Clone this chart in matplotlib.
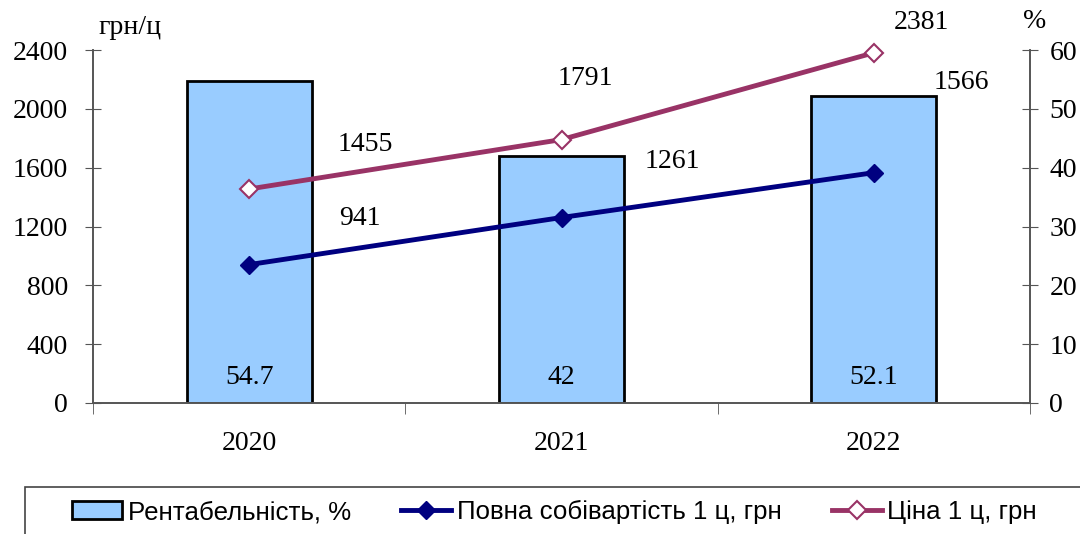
import matplotlib.pyplot as plt
from matplotlib.patches import Rectangle

years = ['2020', '2021', '2022']
profit = [54.7, 42, 52.1]           # Рентабельність, %
cost = [941, 1261, 1566]            # Повна собівартість 1 ц, грн
price = [1455, 1791, 2381]          # Ціна 1 ц, грн

serif = ['Liberation Serif', 'DejaVu Serif']
sans = ['Liberation Sans', 'DejaVu Sans']
fs = 20

fig = plt.figure(figsize=(10.8, 5.34), dpi=100)
ax = fig.add_axes([93/1080, 1-403/534, (1030-93)/1080, 353/534])
ax2 = ax.twinx()

x = range(len(years))

# стовпці на правій осі (%)
ax2.bar(x, profit, width=0.4, color='#99CCFF', edgecolor='black', linewidth=2, zorder=2)
ax2.set_ylim(0, 60)
ax2.set_yticks(range(0, 61, 10))

# лінії на лівій осі (грн)
ax.set_zorder(ax2.get_zorder() + 1)
ax.patch.set_visible(False)
l1, = ax.plot(x, cost, color='#000080', lw=3.5, marker='D', ms=9, zorder=3, clip_on=False)
l2, = ax.plot(x, price, color='#993366', lw=3.5, marker='D', ms=9,
              mfc='white', mec='#993366', mew=1.5, zorder=3, clip_on=False)
ax.set_ylim(0, 2400)
ax.set_yticks(range(0, 2401, 400))
ax.set_xlim(-0.5, 2.5)

# підписи значень
off_cost = [(111, 46), (111, 56), (88, 90)]
off_price = [(116, 44), (24, 61), (48, 30)]
for i in x:
    ax.annotate(str(cost[i]), (i, cost[i]), xytext=off_cost[i], textcoords='offset pixels',
                ha='center', va='center', fontsize=fs, family=serif)
    ax.annotate(str(price[i]), (i, price[i]), xytext=off_price[i], textcoords='offset pixels',
                ha='center', va='center', fontsize=fs, family=serif)
    ax2.annotate(str(profit[i]), (i, 0), xytext=(0, 26), textcoords='offset pixels',
                 ha='center', va='center', fontsize=fs, family=serif, zorder=4)

# осі
ax.set_xticks(list(x))
ax.set_xticklabels(years, family=serif, fontsize=fs)
ax.set_xticks([-0.5, 0.5, 1.5, 2.5], minor=True)
ax.tick_params(axis='x', which='major', length=0, pad=20)
ax.tick_params(axis='x', which='minor', length=8, direction='out', color='#555555')
ax.tick_params(axis='y', direction='inout', length=12, color='#555555', pad=12)
ax2.tick_params(axis='y', direction='inout', length=12, color='#555555', pad=8)
for t in ax.get_yticklabels() + ax2.get_yticklabels():
    t.set_family(serif)
    t.set_fontsize(fs)
for a in (ax, ax2):
    a.spines['top'].set_visible(False)
    for s in ('left', 'right', 'bottom'):
        a.spines[s].set_color('#555555')
        a.spines[s].set_linewidth(1.2)

fig.text(130/1080, 1-27/534, 'грн/ц', ha='center', va='center', fontsize=fs, family=serif)
fig.text(1035/1080, 1-22/534, '%', ha='center', va='center', fontsize=fs, family=serif)

# легенда
fig.patches.append(Rectangle((25/1080, -0.1), 1.0, 0.1 + 1 - 487/534, transform=fig.transFigure,
                             fill=False, edgecolor='#444444', lw=1.2))
bar_h = Rectangle((0, 0), 1, 1, facecolor='#99CCFF', edgecolor='black', lw=2)
fig.legend([bar_h, l1, l2], ['Рентабельність, %', 'Повна собівартість 1 ц, грн', 'Ціна 1 ц, грн'],
           loc='center left', bbox_to_anchor=(72/1080, 1-512/534), ncol=3, frameon=False,
           prop={'family': sans, 'size': 18.6}, handlelength=1.95, handletextpad=0.2,
           columnspacing=1.95, borderaxespad=0, borderpad=0)

fig.savefig('out.png', dpi=100)
